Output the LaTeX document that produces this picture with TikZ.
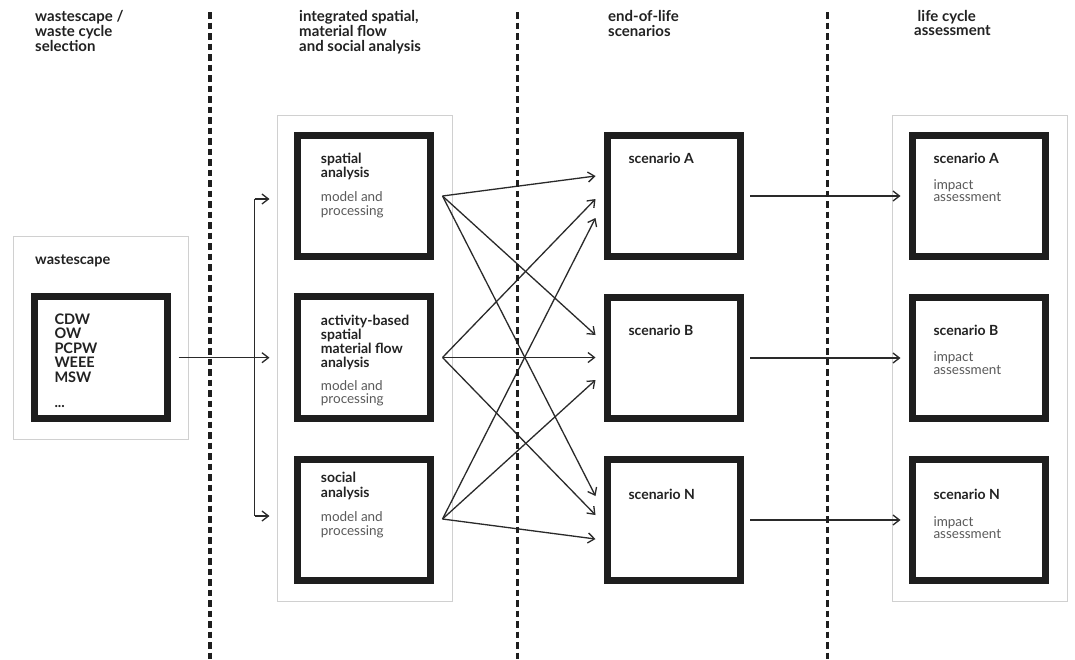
\documentclass[tikz,border=0pt]{standalone}
\usepackage{fontspec}
\setmainfont{Lato}
\usetikzlibrary{arrows.meta}
\newcommand{\mlines}[1]{\begin{tabular}[t]{@{}l@{}}#1\end{tabular}}
\definecolor{ink}{HTML}{1E1E1E}
\definecolor{frame}{HTML}{D0D0D0}
\definecolor{txt}{HTML}{222222}
\definecolor{lighttxt}{HTML}{5A5A5A}
\definecolor{arr}{HTML}{2A2A2A}
\begin{document}
\begin{tikzpicture}[x=1pt,y=-1pt,
  head/.style={anchor=base west,inner sep=0pt,text=txt,font=\fontsize{15}{14}\selectfont\bfseries},
  ttl/.style={anchor=base west,inner sep=0pt,text=txt,font=\fontsize{14}{13}\selectfont\bfseries},
  desc/.style={anchor=base west,inner sep=0pt,text=lighttxt,font=\fontsize{13.5}{12.5}\selectfont},
  blackbox/.style={draw=ink,line width=7pt,minimum width=133pt,minimum height=121.5pt,inner sep=0pt,fill=white},
  grayframe/.style={draw=frame,line width=1pt,fill=white},
  divider/.style={draw=ink,line width=3.5pt,dash pattern=on 6.5pt off 4pt},
  conn/.style={draw=arr,line width=1.3pt,-{Straight Barb[length=6.5pt,width=10pt,line width=1.3pt]}},
  plain/.style={draw=arr,line width=1.3pt}
]
\useasboundingbox[fill=white] (0,0) rectangle (1075,659);

% dividers
\coordinate (d1t) at (210,12);   \coordinate (d1b) at (210,659);
\coordinate (d2t) at (517.5,12); \coordinate (d2b) at (517.5,659);
\coordinate (d3t) at (827.7,12); \coordinate (d3b) at (827.7,659);

% headers
\node[head] (h1) at (35,21) {\mlines{wastescape /\\waste cycle\\selection}};
\node[head] (h2) at (299,21) {\mlines{integrated spatial,\\material flow\\and social analysis}};
\node[head] (h3) at (608,21) {\mlines{end-of-life\\scenarios}};
\node[head] (h4) at (914,21) {\mlines{\hspace{3.5pt}life cycle\\assessment}};

% gray containers
\draw[grayframe] (13,236) rectangle (188,439);
\draw[grayframe] (277,115) rectangle (452,601);
\draw[grayframe] (892,115) rectangle (1067,601);

% black boxes
\node[blackbox] (W)  at (101,357.5) {};
\node[blackbox] (S1) at (364,196) {};
\node[blackbox] (S2) at (364,357.5) {};
\node[blackbox] (S3) at (364,520) {};
\node[blackbox] (EA) at (674,196) {};
\node[blackbox] (EB) at (674,358) {};
\node[blackbox] (EN) at (674,520) {};
\node[blackbox] (LA) at (979,196) {};
\node[blackbox] (LB) at (979,358) {};
\node[blackbox] (LN) at (979,520) {};

% texts
\node[ttl,font=\fontsize{14.5}{13}\selectfont\bfseries] (wl) at (35,264) {wastescape};
\node[ttl,font=\fontsize{14.5}{12.9}\selectfont\bfseries] (wlist) at (54.3,324.3) {\mlines{CDW\\OW\\PCPW\\WEEE\\MSW\\ \\...}};

\node[ttl] (s1t) at (320.7,163) {\mlines{spatial\\analysis}};
\node[desc] (s1d) at (320.7,201.7) {\mlines{model and\\processing}};
\node[ttl,font=\fontsize{14}{12.7}\selectfont\bfseries] (s2t) at (320.7,325) {\mlines{activity-based\\spatial\\material flow\\analysis}};
\node[desc] (s2d) at (320.7,390) {\mlines{model and\\processing}};
\node[ttl] (s3t) at (320.7,482.7) {\mlines{social\\analysis}};
\node[desc] (s3d) at (320.7,521.7) {\mlines{model and\\processing}};

\node[ttl] (eat) at (628.3,163.3) {scenario A};
\node[ttl] (ebt) at (628.3,335) {scenario B};
\node[ttl] (ent) at (628.3,499.3) {scenario N};

\node[ttl] (lat) at (933.3,163) {scenario A};
\node[desc,font=\fontsize{13.5}{12}\selectfont] (lad) at (933.3,189) {\mlines{impact\\assessment}};
\node[ttl] (lbt) at (933.3,335) {scenario B};
\node[desc,font=\fontsize{13.5}{12}\selectfont] (lbd) at (933.3,361.7) {\mlines{impact\\assessment}};
\node[ttl] (lnt) at (933.3,499.3) {scenario N};
\node[desc,font=\fontsize{13.5}{12}\selectfont] (lnd) at (933.3,526) {\mlines{impact\\assessment}};

% connectors: wastescape -> analyses
\coordinate (bt) at (254.5,199);
\coordinate (bb) at (254.5,516);
\draw[conn] ([xshift=7.5pt,yshift=-0.2pt]W.east) -- ([xshift=-24.5pt,yshift=-0.2pt]S2.west);
\draw[plain] (bt) -- (bb);
\draw[conn] (bt) -- ([xshift=-24.5pt]S1.west |- bt);
\draw[conn] (bb) -- ([xshift=-24.5pt]S3.west |- bb);

% analyses -> scenarios (yshift positive = upward)
\coordinate (o1) at ([xshift=8.5pt]S1.east);
\coordinate (o2) at ([xshift=8.5pt]S2.east);
\coordinate (o3) at ([xshift=8.5pt,yshift=1pt]S3.east);
\coordinate (iA1) at ([xshift=-8.5pt,yshift=20pt]EA.west);
\coordinate (iA2) at ([xshift=-8.5pt,yshift=-3pt]EA.west);
\coordinate (iA3) at ([xshift=-8.5pt,yshift=-22pt]EA.west);
\coordinate (iB1) at ([xshift=-8.5pt,yshift=23pt]EB.west);
\coordinate (iB2) at ([xshift=-8.5pt,yshift=0.5pt]EB.west);
\coordinate (iB3) at ([xshift=-8.5pt,yshift=-22pt]EB.west);
\coordinate (iN1) at ([xshift=-8.5pt,yshift=24pt]EN.west);
\coordinate (iN2) at ([xshift=-8.5pt,yshift=5pt]EN.west);
\coordinate (iN3) at ([xshift=-8.5pt,yshift=-19pt]EN.west);
\draw[conn] (o1) -- (iA1);
\draw[conn] (o1) -- (iB1);
\draw[conn] (o1) -- (iN1);
\draw[conn] (o2) -- (iA2);
\draw[conn] (o2) -- (iB2);
\draw[conn] (o2) -- (iN2);
\draw[conn] (o3) -- (iA3);
\draw[conn] (o3) -- (iB3);
\draw[conn] (o3) -- (iN3);

% scenarios -> LCA
\draw[conn] ([xshift=6.2pt]EA.east) -- ([xshift=-8.5pt]LA.west);
\draw[conn] ([xshift=6.2pt]EB.east) -- ([xshift=-8.5pt]LB.west);
\draw[conn] ([xshift=6.2pt]EN.east) -- ([xshift=-8.5pt]LN.west);

% dividers on top
\draw[divider] (d1t) -- (d1b);
\draw[divider] (d2t) -- (d2b);
\draw[divider] (d3t) -- (d3b);
\end{tikzpicture}
\end{document}
